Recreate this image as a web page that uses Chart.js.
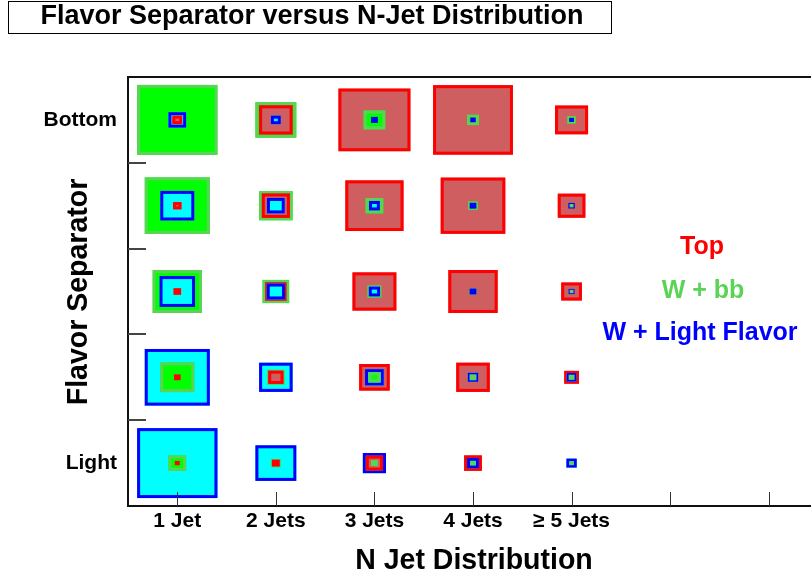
<!DOCTYPE html>
<html>
<head>
<meta charset="utf-8">
<script src="https://cdn.jsdelivr.net/npm/chart.js@4.4.0/dist/chart.umd.min.js"></script>
<style>
body { margin: 0; background: #fff; overflow: hidden; }
#wrap { width: 818px; height: 577px; }
</style>
</head>
<body>
<div id="wrap"><canvas id="c" width="818" height="577"></canvas></div>
<script>
// x bins (N jets) and y bins (flavor separator, 1 = Light ... 5 = Bottom)
const jetLabels = ["1 Jet", "2 Jets", "3 Jets", "4 Jets", "\u2265 5 Jets"];
const jetTicks = [1, 2, 3, 4, 5, 6, 7];
const sepLabels = ["Light", "", "", "", "Bottom"];
const sepBounds = [1.5, 2.5, 3.5, 4.5];

// box size as a fraction of the cell, rows = separator bins (Light first), cols = jet bins
const topBox = [
  [0.05, 0.08, 0.175, 0.18, 0.0],
  [0.068, 0.155, 0.31, 0.34, 0.15],
  [0.078, 0.215, 0.445, 0.50, 0.21],
  [0.085, 0.285, 0.59, 0.655, 0.28],
  [0.10, 0.34, 0.73, 0.81, 0.335]
];
const wbbBox = [
  [0.18, 0.095, 0.07, 0.055, 0.048],
  [0.345, 0.175, 0.12, 0.07, 0.06],
  [0.50, 0.27, 0.14, 0.078, 0.04],
  [0.66, 0.34, 0.18, 0.098, 0.04],
  [0.815, 0.415, 0.22, 0.12, 0.085]
];
const wlfBox = [
  [0.815, 0.415, 0.235, 0.12, 0.105],
  [0.66, 0.34, 0.19, 0.105, 0.10],
  [0.36, 0.185, 0.115, 0.07, 0.06],
  [0.345, 0.18, 0.11, 0.068, 0.065],
  [0.18, 0.10, 0.07, 0.055, 0.048]
];

function toPoints(grid) {
  let pts = [];
  grid.forEach((row, r) => {
    row.forEach((v, c) => {
      pts.push({ x: c + 1, y: r + 1, v: v });
    });
  });
  return pts;
}

const FONT = "'Liberation Sans', Arial, sans-serif";

// draws the nested boxes, biggest first in every cell
const boxPlugin = {
  id: 'boxes',
  afterDatasetsDraw(chart) {
    const ctx = chart.ctx;
    const xs = chart.scales.x, ys = chart.scales.y;
    let cells = {};
    chart.data.datasets.forEach(ds => {
      ds.data.forEach(p => {
        if (p.v <= 0) return;
        const key = p.x + '_' + p.y;
        (cells[key] = cells[key] || []).push({ p: p, ds: ds });
      });
    });
    ctx.save();
    Object.values(cells).forEach(list => {
      list.sort((a, b) => b.p.v - a.p.v);
      list.forEach(item => {
        const p = item.p, ds = item.ds;
        const x0 = xs.getPixelForValue(p.x - p.v / 2);
        const x1 = xs.getPixelForValue(p.x + p.v / 2);
        const y0 = ys.getPixelForValue(p.y + p.v / 2);
        const y1 = ys.getPixelForValue(p.y - p.v / 2);
        const w = x1 - x0, h = y1 - y0;
        const lw = 3;
        if (w <= 2 * lw + 1 || h <= 2 * lw + 1) {
          ctx.fillStyle = ds.borderColor;
          ctx.fillRect(x0, y0, w, h);
          return;
        }
        ctx.fillStyle = ds.backgroundColor;
        ctx.fillRect(x0, y0, w, h);
        ctx.lineWidth = lw;
        ctx.strokeStyle = ds.borderColor;
        ctx.strokeRect(x0 + lw / 2, y0 + lw / 2, w - lw, h - lw);
      });
    });
    ctx.restore();
  }
};

// text squeezed a little sideways, like the original's Helvetica
function squeezed(ctx, text, x, y, sx) {
  ctx.save();
  ctx.translate(x, y);
  ctx.scale(sx, 1);
  ctx.fillText(text, 0, 0);
  ctx.restore();
}

// frame, ticks, labels and titles
const framePlugin = {
  id: 'frame',
  afterDraw(chart) {
    const ctx = chart.ctx;
    const a = chart.chartArea;
    const xs = chart.scales.x, ys = chart.scales.y;
    ctx.save();

    // frame
    ctx.strokeStyle = '#111';
    ctx.lineWidth = 2;
    ctx.strokeRect(a.left, a.top, a.right - a.left, a.bottom - a.top);

    // x ticks
    ctx.lineWidth = 1;
    ctx.strokeStyle = '#333';
    jetTicks.forEach(t => {
      const x = Math.round(xs.getPixelForValue(t)) + 0.5;
      ctx.beginPath();
      ctx.moveTo(x, a.bottom);
      ctx.lineTo(x, a.bottom - 14);
      ctx.stroke();
    });
    // y ticks
    ctx.lineWidth = 2;
    ctx.strokeStyle = '#444';
    sepBounds.forEach(t => {
      const y = Math.round(ys.getPixelForValue(t));
      ctx.beginPath();
      ctx.moveTo(a.left, y);
      ctx.lineTo(a.left + 18, y);
      ctx.stroke();
    });

    ctx.fillStyle = '#000';
    ctx.textBaseline = 'middle';

    // x tick labels
    ctx.font = 'bold 21px ' + FONT;
    ctx.textAlign = 'center';
    jetLabels.forEach((l, i) => {
      ctx.fillText(l, xs.getPixelForValue(i + 1), 521);
    });
    // y tick labels
    ctx.textAlign = 'right';
    sepLabels.forEach((l, i) => {
      if (l) ctx.fillText(l, 117, ys.getPixelForValue(i + 1));
    });

    // axis titles
    ctx.font = 'bold 30px ' + FONT;
    ctx.textAlign = 'center';
    squeezed(ctx, 'N Jet Distribution', 474, 561, 0.95);
    ctx.save();
    ctx.translate(79, 292);
    ctx.rotate(-Math.PI / 2);
    squeezed(ctx, 'Flavor Separator', 0, 0, 0.95);
    ctx.restore();

    // title box
    ctx.lineWidth = 1;
    ctx.strokeStyle = '#000';
    ctx.strokeRect(8.5, 1.5, 603, 32);
    ctx.font = 'bold 27px ' + FONT;
    ctx.fillText('Flavor Separator versus N-Jet Distribution', 312, 17);

    // legend text
    ctx.font = 'bold 25px ' + FONT;
    const legendY = [247, 291, 333];
    const legendX = [702, 703, 700];
    chart.data.datasets.forEach((ds, i) => {
      ctx.fillStyle = ds.textColor;
      ctx.fillText(ds.label, legendX[i], legendY[i]);
    });

    ctx.restore();
  }
};

new Chart(document.getElementById('c'), {
  type: 'scatter',
  data: {
    datasets: [
      { label: 'Top', data: toPoints(topBox), backgroundColor: '#cf5e61', borderColor: '#ff0000', textColor: '#ff0000', pointRadius: 0 },
      { label: 'W + bb', data: toPoints(wbbBox), backgroundColor: '#00ff00', borderColor: '#59d454', textColor: '#59d454', pointRadius: 0 },
      { label: 'W + Light Flavor', data: toPoints(wlfBox), backgroundColor: '#00ffff', borderColor: '#0000ff', textColor: '#0000ff', pointRadius: 0 }
    ]
  },
  options: {
    responsive: false,
    animation: false,
    events: [],
    layout: { padding: { left: 128, top: 77, right: 0, bottom: 71 } },
    scales: {
      x: { type: 'linear', min: 0.5, max: 7.5, display: false },
      y: { type: 'linear', min: 0.5, max: 5.5, display: false }
    },
    plugins: { legend: { display: false }, tooltip: { enabled: false } }
  },
  plugins: [boxPlugin, framePlugin]
});
</script>
</body>
</html>
